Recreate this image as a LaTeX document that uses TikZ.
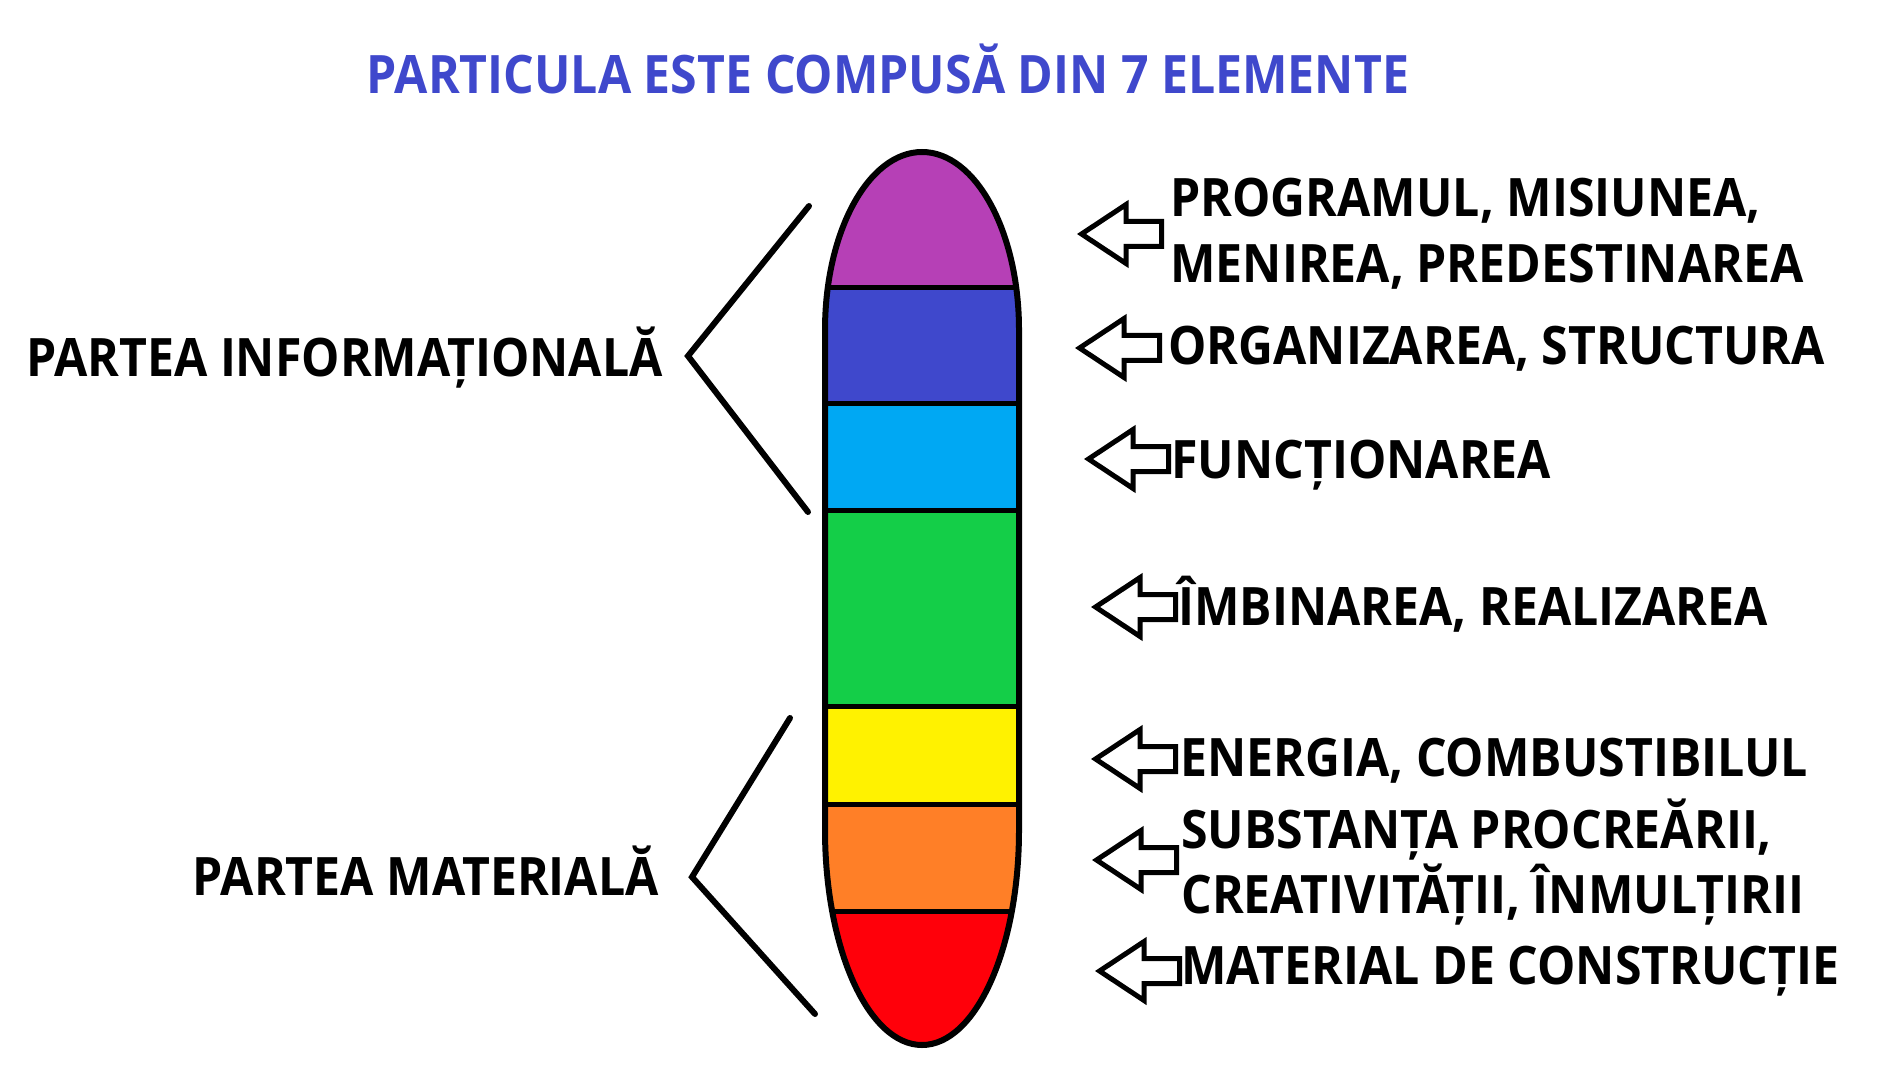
\documentclass[tikz,border=0pt]{standalone}
\usepackage{fontspec}
\newfontfamily\diagfont{Open Sans}[FakeStretch=0.91]
\usetikzlibrary{shapes.arrows}
\definecolor{titleblue}{RGB}{63,72,204}
\definecolor{bandpurple}{RGB}{182,64,182}
\definecolor{bandblue}{RGB}{63,72,204}
\definecolor{bandcyan}{RGB}{0,168,243}
\definecolor{bandgreen}{RGB}{20,206,72}
\definecolor{bandyellow}{RGB}{255,242,0}
\definecolor{bandorange}{RGB}{255,127,39}
\definecolor{bandred}{RGB}{255,0,10}
\tikzset{
  hollowarrow/.style={single arrow, draw, line width=2.5pt, shape border rotate=180,
    minimum height=40pt, inner sep=5pt, single arrow head extend=8.5pt,
    single arrow tip angle=67, anchor=tip},
  itemtext/.style={anchor=base west, inner sep=0pt, align=left,
    font=\diagfont\bfseries\fontsize{26.5}{32.5}\selectfont},
  parttext/.style={anchor=base east, inner sep=0pt,
    font=\diagfont\bfseries\fontsize{26.5}{32.5}\selectfont},
}
\newcommand{\capsulepath}{(825,248) -- (825,748) arc[start angle=180, end angle=0, x radius=97, y radius=178]
  -- (1019,248) arc[start angle=0, end angle=-180, x radius=97, y radius=215] -- cycle}
\begin{document}
\begin{tikzpicture}[x=0.5pt, y=0.5pt]
  \useasboundingbox (0,0) rectangle (1877,1078);
  \node[anchor=base, inner sep=0pt, text=titleblue, font=\diagfont\bfseries\fontsize{26.5}{30}\selectfont]
    (title) at (888,984) {PARTICULA ESTE COMPUSĂ DIN 7 ELEMENTE};
  \begin{scope}
    \clip \capsulepath;
    \foreach \c/\ytop/\ybot in {bandpurple/930/790, bandblue/790/675, bandcyan/675/568,
      bandgreen/568/372, bandyellow/372/274, bandorange/274/167, bandred/167/30}
      \fill[\c] (800,\ybot) rectangle (1050,\ytop);
    \foreach \y in {790,675,568,372,274,167}
      \draw[line width=2.5pt] (800,\y) -- (1050,\y);
  \end{scope}
  \draw[line width=3pt] \capsulepath;
  \coordinate (infoTop) at (809,872);
  \coordinate (infoTip) at (688,722);
  \coordinate (infoBot) at (808,566);
  \coordinate (matTop) at (790,360);
  \coordinate (matTip) at (692,201);
  \coordinate (matBot) at (815,64);
  \draw[line width=3pt, line cap=round] (infoTop) -- (infoTip) -- (infoBot);
  \draw[line width=3pt, line cap=round] (matTop) -- (matTip) -- (matBot);
  \node[parttext] (infoLbl) at (663,702) {PARTEA INFORMAȚIONALĂ};
  \node[parttext] (matLbl) at (659,183) {PARTEA MATERIALĂ};
  \foreach \n/\ax/\ay/\lx/\ly/\txt in {
    prog/1077/844/1170/796/{PROGRAMUL, MISIUNEA,\\MENIREA, PREDESTINAREA},
    org/1075/730/1168/713/{ORGANIZAREA, STRUCTURA},
    func/1084/619/1171/600/{FUNCȚIONAREA},
    imb/1091/471/1178/453/{ÎMBINAREA, REALIZAREA},
    energ/1091/319/1180/302/{ENERGIA, COMBUSTIBILUL},
    subst/1092/218/1181/165/{SUBSTANȚA PROCREĂRII,\\CREATIVITĂȚII, ÎNMULȚIRII},
    mat/1095/107/1181/94/{MATERIAL DE CONSTRUCȚIE}}
  {
    \node[hollowarrow] (arr\n) at (\ax,\ay) {};
    \node[itemtext] (lbl\n) at (\lx,\ly) {\txt};
  }
\end{tikzpicture}
\end{document}
